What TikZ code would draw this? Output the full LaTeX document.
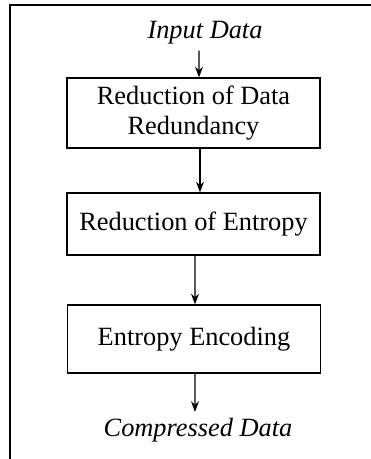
\documentclass[tikz,border=0pt]{standalone}
\usepackage{fontspec}
\setmainfont{Liberation Serif}
\usetikzlibrary{arrows.meta}
\tikzset{
  stage/.style={draw,line width=0.8pt,minimum width=5.06cm,align=center,
    font=\fontsize{15}{17}\selectfont},
  io/.style={font=\fontsize{15}{17}\selectfont\itshape},
  arr/.style={-{Stealth[length=6pt,width=4.5pt]},line width=0.6pt}
}
\begin{document}
\begin{tikzpicture}
	\useasboundingbox (0,0) rectangle (7.42,-9.18);
	% Rahmen (oben und links)
	\draw[line width=1pt] (7.42,-0.1) -- (0.2,-0.1) -- (0.2,-9.18);
	% Ein- und Ausgabe
	\node[io] (input) at (4.1,-0.66) {Input Data};
	\node[io] (output) at (3.96,-8.6) {Compressed Data};
	% Stufen
	\node[stage,minimum height=1.4cm] (redundancy) at (3.87,-2.26) {Reduction of Data\\Redundancy};
	\node[stage,minimum height=1.24cm] (entropy) at (3.87,-4.48) {Reduction of Entropy};
	\node[stage,minimum height=1.36cm] (encoding) at (3.88,-6.78) {Entropy Encoding};
	% Pfeile
	\draw[arr] ([xshift=-0.12cm]input.south) -- ([xshift=0.11cm]redundancy.north);
	\draw[arr] ([xshift=0.13cm]redundancy.south) -- ([xshift=0.13cm]entropy.north);
	\draw[arr] ([xshift=0.03cm]entropy.south) -- ([xshift=0.02cm]encoding.north);
	\draw[arr] ([xshift=0.02cm]encoding.south) -- ([xshift=-0.06cm]output.north);
\end{tikzpicture}
\end{document}
